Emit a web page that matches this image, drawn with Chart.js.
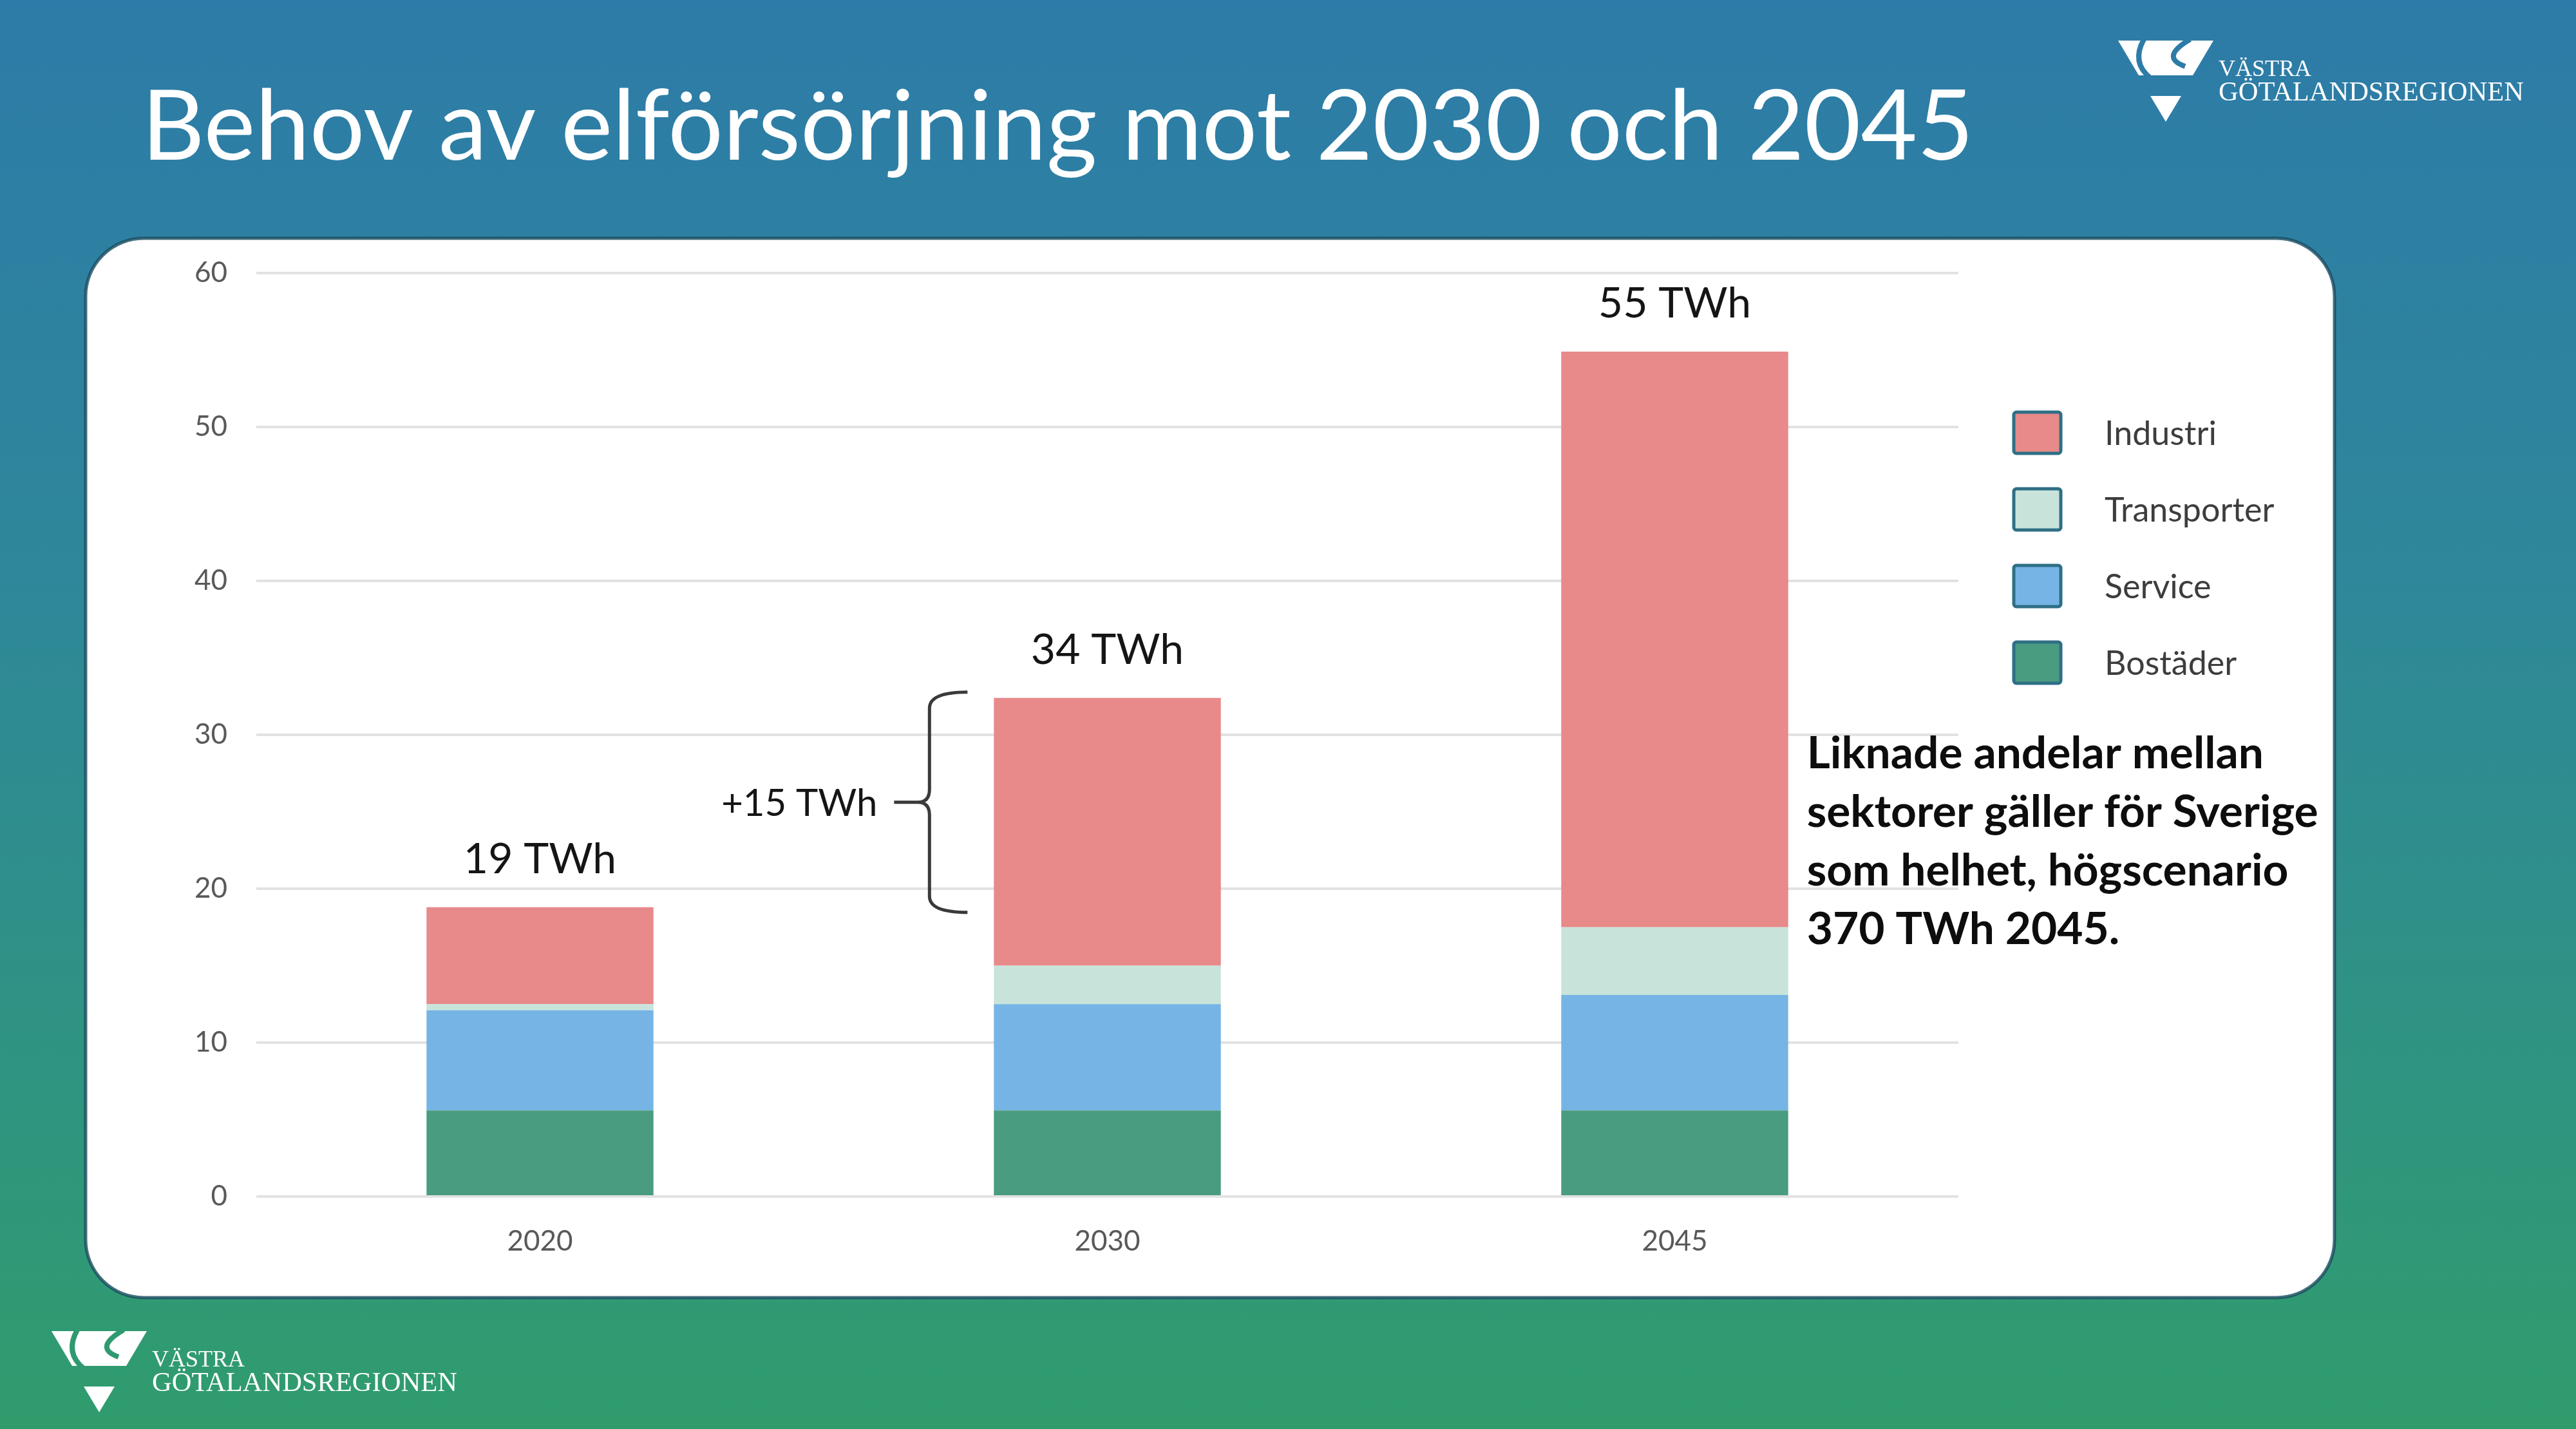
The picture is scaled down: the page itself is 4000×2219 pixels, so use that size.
<!DOCTYPE html>
<html>
<head>
<meta charset="utf-8">
<script src="https://cdn.jsdelivr.net/npm/chart.js@4.4.1/dist/chart.umd.min.js"></script>
<style>
    html, body { margin: 0; padding: 0; }
    body { width: 4000px; height: 2219px; position: relative; overflow: hidden; }
    #bakgrund { position: absolute; left: 0; top: 0; }
    #grafico { position: absolute; left: 133px; top: 370px; }
</style>
</head>
<body>
<canvas id="bakgrund" width="4000" height="2219"></canvas>
<canvas id="grafico" width="3492" height="1645"></canvas>
<script>
// data (TWh)
const ar = ['2020', '2030', '2045'];
const bostader = [5.6, 5.6, 5.6];
const service = [6.5, 6.9, 7.5];
const transporter = [0.4, 2.5, 4.4];
const industri = [6.3, 17.4, 37.4];
const totalEtiketter = ['19 TWh', '34 TWh', '55 TWh'];
const okningEtikett = '+15 TWh';
const yTicks = [0, 10, 20, 30, 40, 50, 60];
const kommentar = [
    'Liknade andelar mellan',
    'sektorer gäller för Sverige',
    'som helhet, högscenario',
    '370 TWh 2045.'
];
const titel = 'Behov av elförsörjning mot 2030 och 2045';

Chart.defaults.font.family = 'Lato';

function summa(i) {
    return bostader[i] + service[i] + transporter[i] + industri[i];
}

function logo(ctx, x, y, bg) {
    ctx.save();
    ctx.translate(x, y);
    ctx.fillStyle = '#fff';
    ctx.beginPath();
    ctx.moveTo(0, 0);
    ctx.lineTo(148, 0);
    ctx.lineTo(116, 54);
    ctx.lineTo(32, 54);
    ctx.closePath();
    ctx.fill();
    ctx.beginPath();
    ctx.moveTo(50, 86);
    ctx.lineTo(98, 86);
    ctx.lineTo(74, 126);
    ctx.closePath();
    ctx.fill();
    // snittet i symbolen
    ctx.strokeStyle = bg;
    ctx.lineWidth = 8;
    ctx.beginPath();
    ctx.moveTo(40, -2);
    ctx.quadraticCurveTo(20, 34, 50, 58);
    ctx.stroke();
    ctx.beginPath();
    ctx.moveTo(112, -2);
    ctx.quadraticCurveTo(64, 26, 104, 40);
    ctx.stroke();

    ctx.fillStyle = '#fff';
    ctx.textBaseline = 'alphabetic';
    ctx.font = '36px "Liberation Serif"';
    ctx.fillText('VÄSTRA', 156, 55);
    ctx.font = '40px "Liberation Serif"';
    const w = ctx.measureText('GÖTALANDSREGIONEN').width;
    ctx.font = (40 * 474 / w) + 'px "Liberation Serif"';
    ctx.fillText('GÖTALANDSREGIONEN', 156, 93);
    ctx.restore();
}

function ritaBakgrund() {
    const ctx = document.getElementById('bakgrund').getContext('2d');
    const g = ctx.createLinearGradient(0, 0, 0, 2219);
    g.addColorStop(0, '#2d7ba8');
    g.addColorStop(0.4, '#2e879a');
    g.addColorStop(0.75, '#2f9481');
    g.addColorStop(1, '#309c6c');
    ctx.fillStyle = g;
    ctx.fillRect(0, 0, 4000, 2219);

    ctx.fillStyle = '#fff';
    ctx.font = '100px Lato';
    const w = ctx.measureText(titel).width;
    ctx.font = (100 * 2845 / w) + 'px Lato';
    ctx.textBaseline = 'alphabetic';
    ctx.fillText(titel, 220, 248);

    ctx.beginPath();
    ctx.roundRect(133, 370, 3492, 1645, 90);
    ctx.fillStyle = '#fff';
    ctx.fill();
    ctx.lineWidth = 5;
    ctx.strokeStyle = 'rgba(25, 75, 95, 0.8)';
    ctx.stroke();

    logo(ctx, 3289, 63, '#2d7ca7');
    logo(ctx, 80, 2067, '#2f9a6f');
}

const totalerPlugin = {
    id: 'totaler',
    afterDatasetsDraw(chart) {
        const c = chart.ctx;
        const meta = chart.getDatasetMeta(chart.data.datasets.length - 1);
        c.save();
        c.font = '66px Lato';
        c.fillStyle = '#151515';
        c.textAlign = 'center';
        c.textBaseline = 'middle';
        meta.data.forEach((bar, i) => {
            c.fillText(totalEtiketter[i], bar.x, bar.y - 74);
        });
        c.restore();
    }
};

const klammerPlugin = {
    id: 'klammer',
    afterDatasetsDraw(chart) {
        const c = chart.ctx;
        const y = chart.scales.y;
        const bar = chart.getDatasetMeta(3).data[1];
        const topp = y.getPixelForValue(summa(1)) - 9;
        const botten = y.getPixelForValue(summa(0)) + 8;
        const mitt = (topp + botten) / 2;
        const xl = bar.x - bar.width / 2 - 100;

        c.save();
        c.strokeStyle = '#3a3a3a';
        c.lineWidth = 5;
        c.beginPath();
        c.moveTo(xl + 59, topp);
        c.quadraticCurveTo(xl, topp, xl, topp + 25);
        c.lineTo(xl, mitt - 20);
        c.quadraticCurveTo(xl, mitt, xl - 18, mitt);
        c.lineTo(xl - 55, mitt);
        c.moveTo(xl - 18, mitt);
        c.quadraticCurveTo(xl, mitt, xl, mitt + 20);
        c.lineTo(xl, botten - 25);
        c.quadraticCurveTo(xl, botten, xl + 59, botten);
        c.stroke();

        c.font = '58px Lato';
        c.fillStyle = '#151515';
        c.textAlign = 'right';
        c.textBaseline = 'middle';
        c.fillText(okningEtikett, xl - 81, mitt + 3);
        c.restore();
    }
};

const kommentarPlugin = {
    id: 'kommentar',
    afterDraw(chart) {
        const c = chart.ctx;
        const bar = chart.getDatasetMeta(3).data[2];
        const x = bar.x + bar.width / 2 + 29;
        const y0 = chart.scales.y.getPixelForValue(30) + 30;
        c.save();
        c.font = 'bold 80px Lato';
        const w = c.measureText(kommentar[1]).width;
        c.font = 'bold ' + (80 * 794 / w) + 'px Lato';
        c.fillStyle = '#0d0d0d';
        c.textAlign = 'left';
        c.textBaseline = 'middle';
        kommentar.forEach((rad, i) => {
            c.fillText(rad, x, y0 + i * 91);
        });
        c.restore();
    }
};

const legendPlugin = {
    id: 'egenLegend',
    afterDraw(chart) {
        const c = chart.ctx;
        const x0 = chart.chartArea.right + 86;
        const y0 = chart.chartArea.top + 216;
        const sets = chart.data.datasets.slice().reverse();
        c.save();
        c.font = '52px Lato';
        c.textAlign = 'left';
        c.textBaseline = 'middle';
        sets.forEach((ds, i) => {
            const y = y0 + i * 119;
            c.beginPath();
            c.roundRect(x0, y, 73, 64, 4);
            c.fillStyle = ds.backgroundColor;
            c.fill();
            c.lineWidth = 5;
            c.strokeStyle = '#2e6f86';
            c.stroke();
            c.fillStyle = '#3d3d3d';
            c.fillText(ds.label, x0 + 141, y + 34);
        });
        c.restore();
    }
};

ritaBakgrund();

const ctx = document.getElementById('grafico');

new Chart(ctx, {
    type: 'bar',
    data: {
        labels: ar,
        datasets: [
            { label: 'Bostäder', data: bostader, backgroundColor: '#4a9c80' },
            { label: 'Service', data: service, backgroundColor: '#76b4e5' },
            { label: 'Transporter', data: transporter, backgroundColor: '#c8e4da' },
            { label: 'Industri', data: industri, backgroundColor: '#e8898a' }
        ]
    },
    options: {
        responsive: false,
        animation: false,
        layout: {
            padding: { top: 54, right: 584, bottom: 0, left: 0 }
        },
        datasets: {
            bar: { barPercentage: 0.4, categoryPercentage: 1.0, borderWidth: 0 }
        },
        plugins: {
            legend: { display: false },
            tooltip: { enabled: false }
        },
        scales: {
            x: {
                stacked: true,
                grid: { display: false },
                border: { display: false },
                ticks: {
                    color: '#595959',
                    font: { size: 44 },
                    padding: 35
                },
                afterFit: (axis) => { axis.height = 157; }
            },
            y: {
                stacked: true,
                min: yTicks[0],
                max: yTicks[yTicks.length - 1],
                grid: { color: '#e2e2e2', lineWidth: 4, drawTicks: false },
                border: { display: false },
                ticks: {
                    stepSize: yTicks[1] - yTicks[0],
                    color: '#595959',
                    font: { size: 44 },
                    padding: 45
                },
                afterFit: (axis) => {
                    axis.width = 265;
                    axis.paddingTop = 0;
                    axis.paddingBottom = 0;
                }
            }
        }
    },
    plugins: [totalerPlugin, klammerPlugin, kommentarPlugin, legendPlugin]
});
</script>
</body>
</html>
